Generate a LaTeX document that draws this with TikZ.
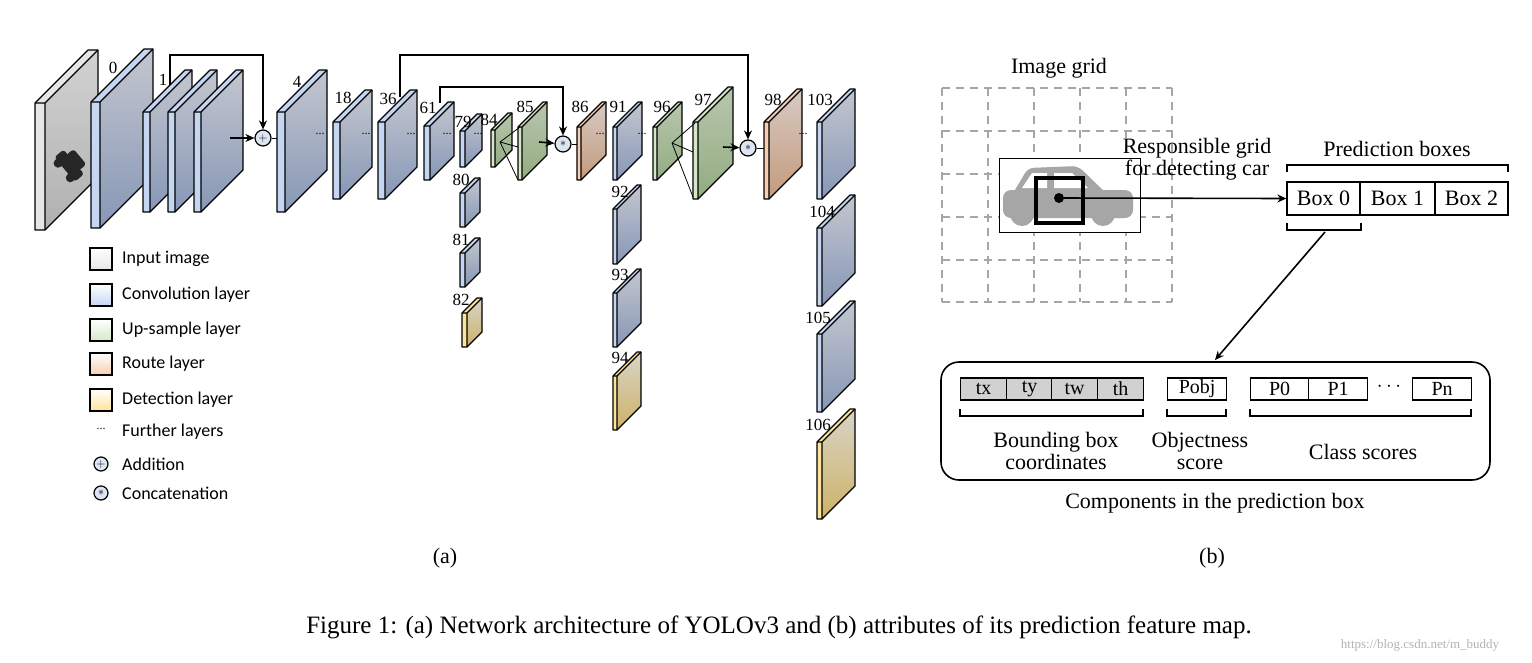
\documentclass[tikz,border=0pt]{standalone}
\usepackage{fontspec}
\setmainfont{Liberation Serif}
\newfontfamily\legendfont{Carlito}
\usetikzlibrary{arrows.meta,calc}
\definecolor{convF}{HTML}{C5D6F2}\definecolor{convA}{HTML}{C3C6CF}\definecolor{convB}{HTML}{8797B6}
\definecolor{inpF}{HTML}{E6E6E6}\definecolor{inpA}{HTML}{D2D2D2}\definecolor{inpB}{HTML}{B0B0B0}
\definecolor{upF}{HTML}{D5E8C8}\definecolor{upA}{HTML}{B9C6AE}\definecolor{upB}{HTML}{92AC80}
\definecolor{routeF}{HTML}{F8CDB0}\definecolor{routeA}{HTML}{D6CAC4}\definecolor{routeB}{HTML}{C49A7C}
\definecolor{detF}{HTML}{FFE39A}\definecolor{detA}{HTML}{D8D4C6}\definecolor{detB}{HTML}{CDB268}
\definecolor{opF}{HTML}{DDE5F3}
\tikzset{
 slabline/.style={line width=1.2pt,line join=round},
 lnum/.style={font=\fontsize{17}{17}\selectfont,inner sep=0pt},
 fdots/.style={font=\fontsize{12}{12}\selectfont,inner sep=0pt},
 conn/.style={line width=1.6pt},
 arr/.style={line width=1.6pt,-{Stealth[length=9pt,width=8pt]}},
 op/.style={circle,draw,line width=1.2pt,fill=opF,minimum size=16pt,inner sep=0pt,font=\fontsize{13}{13}\selectfont},
 leg/.style={font=\legendfont\fontsize{18}{18}\selectfont,anchor=west,inner sep=0pt},
 btxt/.style={font=\fontsize{22}{22}\selectfont,inner sep=0pt},
 cell/.style={draw,line width=1.3pt,minimum height=22pt,inner sep=0pt,font=\fontsize{20}{20}\selectfont},
 grid/.style={draw=black!35,line width=1.6pt,dash pattern=on 8pt off 6pt},
}
\newcommand\slab[6]{%
 \shade[top color=#6A,bottom color=#6B] (#1+#4,#2) -- (#1+#4+#5,#2-#5) -- (#1+#4+#5,#3-#5) -- (#1+#4,#3) -- cycle;
 \fill[#6F] (#1,#2) rectangle (#1+#4,#3);
 \fill[#6F] (#1,#2) -- (#1+#5,#2-#5) -- (#1+#4+#5,#2-#5) -- (#1+#4,#2) -- cycle;
 \draw[slabline] (#1,#3) -- (#1,#2) -- (#1+#5,#2-#5) -- (#1+#4+#5,#2-#5) -- (#1+#4+#5,#3-#5) -- (#1+#4,#3) -- cycle;
 \draw[slabline] (#1+#4,#3) -- (#1+#4,#2) -- (#1+#4+#5,#2-#5) (#1+#4,#2) -- (#1,#2);
}
\newcommand\mybraceup[3]{\draw[line width=1.3pt] (#1,#3+7) -- (#1,#3) -- (#2,#3) -- (#2,#3+7);}
\newcommand\mybracedown[3]{\draw[line width=1.3pt] (#1,#3-7) -- (#1,#3) -- (#2,#3) -- (#2,#3-7);}
\begin{document}
\begin{tikzpicture}[x=1pt,y=-1pt]
\useasboundingbox (0,0) rectangle (1532,662);
% ---------- (a) layers
\slab{35}{103}{230}{10}{53}{inp}
\begin{scope}[rotate around={-50:(70,165)}]
 \fill[black!85,rounded corners=3pt] (54,160) rectangle (86,172);
 \fill[black!85,rounded corners=3pt] (60,152) rectangle (80,162);
 \fill[black!85] (61,173) circle (4.5) (80,173) circle (4.5);
\end{scope}
\slab{91}{102}{228}{9}{53}{conv}
\slab{143}{112}{212}{7}{42}{conv}
\slab{168}{112}{212}{7}{42}{conv}
\slab{194}{112}{212}{7}{42}{conv}
\slab{277}{112}{212}{8}{42}{conv}
\slab{333}{122}{199}{7}{32}{conv}
\slab{378}{122}{199}{7}{32}{conv}
\slab{424}{126}{180}{6}{24}{conv}
\slab{460}{131}{167}{5}{17}{conv}
\slab{460}{193}{227}{5}{15}{conv}
\slab{460}{253}{287}{5}{15}{conv}
\slab{462}{313}{347}{5}{15}{det}
\slab{491}{130}{167}{4}{17}{up}
\slab{518}{127}{180}{4}{25}{up}
\slab{577}{127}{180}{4}{25}{route}
\slab{613}{127}{180}{4}{25}{conv}
\slab{613}{209}{264}{4}{24}{conv}
\slab{613}{293}{347}{4}{24}{conv}
\slab{613}{376}{430}{4}{24}{det}
\slab{653}{127}{180}{4}{25}{up}
\slab{693}{122}{199}{5}{35}{up}
\slab{764}{122}{199}{5}{33}{route}
\slab{817}{122}{199}{5}{33}{conv}
\slab{817}{228}{306}{5}{33}{conv}
\slab{817}{334}{412}{5}{33}{conv}
\slab{817}{442}{519}{5}{33}{det}
% up-sample fans
\coordinate (u84) at (500,142);
\draw[line width=0.8pt] (u84) -- (520,127) (u84) -- (518,147) (u84) -- (518,180);
\coordinate (u96) at (672,143);
\draw[line width=0.8pt] (u96) -- (695,123) (u96) -- (693,152) (u96) -- (693,197);
% layer numbers
\foreach \t/\x/\y in {0/113/68,1/163/80,4/297/82,18/343/98,36/388/99,61/428/108,79/463/122,80/461/180,81/461/240,82/461/300,84/489/120,85/525/107,86/580/107,91/618/107,92/620/192,93/620/275,94/620/358,96/662/107,97/703/100,98/773/100,103/820/100,104/822/212,105/818/318,106/818/425}
 \node[lnum] (n\t) at (\x,\y) {\t};
\foreach \x in {320,366,411,447,478,600,642,803}
 \node[fdots] at (\x,134) {...};
% operators
\node[op] (add) at (263,138) {$+$};
\node[op] (cat1) at (563,144) {$\ast$};
\node[op] (cat2) at (748,148) {$\ast$};
\coordinate (a0) at (230,138);
\draw[arr] (a0) -- (add);
\coordinate (s1) at (170,85);
\draw[arr] (s1) -- (170,55) -| (add);
\coordinate (l4) at (277,138);
\draw[line width=1pt] (add) -- (l4);
\coordinate (s36) at (400,97);
\draw[arr] (s36) -- (400,55) -| (cat2);
\coordinate (s61) at (440,103);
\draw[arr] (s61) -- (440,87) -| (cat1);
\coordinate (a85) at (539,142);
\draw[arr] (a85) -- (cat1);
\coordinate (l86) at (577,144);
\draw[line width=1pt] (cat1) -- (l86);
\coordinate (a97) at (723,147);
\draw[arr] (a97) -- (cat2);
\coordinate (l98) at (764,148);
\draw[line width=1pt] (cat2) -- (l98);
% legend
\foreach \c/\y/\t in {inp/259/Input image,conv/295/Convolution layer,up/330/Up-sample layer,route/364/Route layer,det/400/Detection layer}{
 \shade[top color=white,bottom color=\c F] (90,\y-11) rectangle (112,\y+11);
 \draw[line width=1.2pt] (90,\y-11) rectangle (112,\y+11);
 \node[leg] at (122,\y) {\t};}
\node[fdots] at (101,429) {...};
\node[leg] at (122,432) {Further layers};
\node[op,minimum size=14pt] (lga) at (101,464) {$+$};
\node[leg] at (122,464) {Addition};
\node[op,minimum size=14pt] (lgc) at (101,493) {$\ast$};
\node[leg] at (122,493) {Concatenation};
\node[btxt] at (445,558) {(a)};
% ---------- (b)
\node[btxt] at (1059,68) {Image grid};
\foreach \x in {942,988,1034,1080,1126,1172} \draw[grid] (\x,88) -- (\x,302);
\foreach \y in {88,131,174,217,260,302} \draw[grid] (942,\y) -- (1172,\y);
\fill[white] (999,158) rectangle (1140,232);
\draw[line width=0.9pt] (999,158) rectangle (1140,232);
\begin{scope}[black!35]
 \fill[rounded corners=8pt] (1003,190) rectangle (1133,218);
 \fill[rounded corners=6pt] (1012,195) -- (1028,168) -- (1078,166) -- (1108,195) -- cycle;
 \fill (1022,214) circle (12) (1103,214) circle (12);
\end{scope}
\fill[white] (1022,188) -- (1032,173) -- (1047,173) -- (1047,188) -- cycle;
\fill[white] (1054,173) -- (1072,173) -- (1088,188) -- (1054,188) -- cycle;
\draw[line width=3.2pt] (1036,178) rectangle (1083,223);
\node[circle,fill,minimum size=10pt,inner sep=0pt] (dot) at (1059,198) {};
\node[btxt,align=center] at (1197,159) {Responsible grid\\for detecting car};
\node[btxt] at (1397,149) {Prediction boxes};
\mybraceup{1287}{1508}{165}
\node[cell,minimum width=73pt,font=\fontsize{22}{22}\selectfont,minimum height=33pt] (b0) at (1323.5,198.5) {Box 0};
\node[cell,minimum width=75pt,font=\fontsize{22}{22}\selectfont,minimum height=33pt] (b1) at (1397.5,198.5) {Box 1};
\node[cell,minimum width=73pt,font=\fontsize{22}{22}\selectfont,minimum height=33pt] (b2) at (1471.5,198.5) {Box 2};
\draw[arr] (dot) -- (b0.west);
\mybracedown{1287}{1361}{230}
\coordinate (bt) at (1325,232);
\coordinate (comp) at (1215,360);
\draw[arr] (bt) -- (comp);
\draw[line width=1.6pt,rounded corners=18pt] (941,362) rectangle (1490,480);
\foreach \t/\x in {tx/960,ty/1006,tw/1051,th/1097}
 \node[cell,fill=black!18,minimum width=46pt,anchor=west] (c\t) at (\x,389) {\t};
\node[cell,minimum width=59pt,anchor=west] (cpo) at (1167,389) {Pobj};
\node[cell,minimum width=58pt,anchor=west] (cp0) at (1250,389) {P0};
\node[cell,minimum width=59pt,anchor=west] (cp1) at (1308,389) {P1};
\node[font=\fontsize{20}{20}\selectfont] at (1389,387) {$\cdots$};
\node[cell,minimum width=59pt,anchor=west] (cpn) at (1412,389) {Pn};
\mybracedown{960}{1143}{416}
\mybracedown{1167}{1226}{416}
\mybracedown{1250}{1471}{416}
\node[btxt,align=center] at (1056,451) {Bounding box\\coordinates};
\node[btxt,align=center] at (1200,451) {Objectness\\score};
\node[btxt] at (1363,452) {Class scores};
\node[btxt] at (1215,503) {Components in the prediction box};
\node[btxt] at (1212,558) {(b)};
% caption
\node[font=\fontsize{25}{25}\selectfont,inner sep=0pt] at (779,627) {Figure 1: (a) Network architecture of YOLOv3 and (b) attributes of its prediction feature map.};
\node[font=\fontsize{13}{13}\selectfont,text=black!30,inner sep=0pt] at (1420,645) {https://blog.csdn.net/m\_buddy};
\end{tikzpicture}
\end{document}
